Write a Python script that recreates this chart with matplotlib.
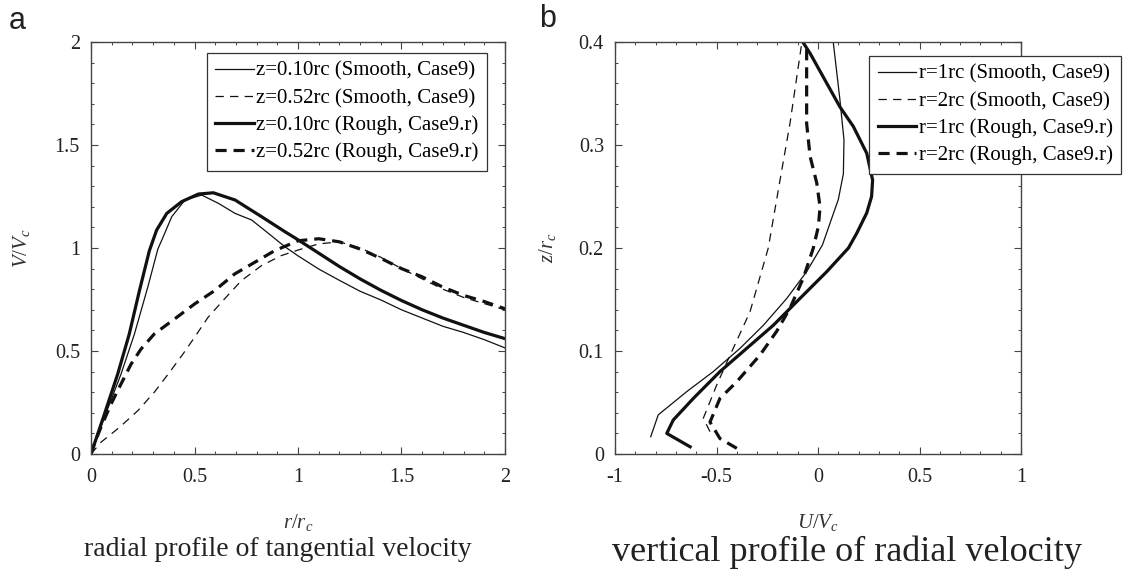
import matplotlib
matplotlib.use("Agg")
import matplotlib.pyplot as plt
from matplotlib.ticker import MultipleLocator, FuncFormatter

plt.rcParams['font.family'] = ['Liberation Serif', 'DejaVu Serif']
plt.rcParams['mathtext.fontset'] = 'custom'
plt.rcParams['mathtext.rm'] = 'Liberation Serif'
plt.rcParams['mathtext.it'] = 'Liberation Serif:italic'
plt.rcParams['lines.scale_dashes'] = False

# ---------------- Panel a data ----------------
r_smooth_010 = [0, 0.065, 0.145, 0.21, 0.274, 0.323, 0.347, 0.39, 0.454, 0.535, 0.615, 0.696, 0.776,
                0.857, 0.937, 1.0, 1.1, 1.2, 1.3, 1.4, 1.5, 1.6, 1.7, 1.8, 1.9, 2.0]
v_smooth_010 = [0, 0.178, 0.388, 0.583, 0.809, 0.995, 1.05, 1.152, 1.233, 1.257, 1.217, 1.168, 1.136,
                1.071, 1.006, 0.962, 0.898, 0.843, 0.79, 0.748, 0.70, 0.66, 0.62, 0.59, 0.555, 0.515]

r_smooth_052 = [0, 0.048, 0.137, 0.226, 0.306, 0.379, 0.444, 0.5, 0.565, 0.637, 0.726, 0.823, 0.919,
                1.0, 1.1, 1.2, 1.3, 1.4, 1.5, 1.6, 1.7, 1.8, 1.9, 2.0]
v_smooth_052 = [0, 0.057, 0.129, 0.21, 0.3, 0.396, 0.485, 0.566, 0.663, 0.744, 0.841, 0.914, 0.963,
                0.99, 1.02, 1.03, 1.0, 0.955, 0.9, 0.85, 0.80, 0.76, 0.73, 0.70]

r_rough_010 = [0, 0.065, 0.129, 0.185, 0.234, 0.282, 0.317, 0.366, 0.438, 0.519, 0.591, 0.696, 0.824,
               0.937, 1.0, 1.1, 1.2, 1.3, 1.4, 1.5, 1.6, 1.7, 1.8, 1.9, 2.0]
v_rough_010 = [0, 0.194, 0.388, 0.583, 0.793, 0.987, 1.087, 1.168, 1.225, 1.262, 1.268, 1.233, 1.152,
               1.079, 1.04, 0.975, 0.91, 0.85, 0.795, 0.745, 0.70, 0.66, 0.625, 0.59, 0.56]

r_rough_052 = [0, 0.016, 0.048, 0.097, 0.145, 0.194, 0.242, 0.306, 0.403, 0.5, 0.597, 0.694, 0.79,
               0.887, 1.0, 1.1, 1.2, 1.3, 1.4, 1.5, 1.6, 1.7, 1.8, 1.9, 2.0]
v_rough_052 = [0, 0.049, 0.13, 0.243, 0.34, 0.437, 0.51, 0.583, 0.655, 0.728, 0.793, 0.874, 0.93,
               0.987, 1.035, 1.045, 1.03, 0.995, 0.95, 0.9, 0.86, 0.81, 0.77, 0.74, 0.705]

labels_a = ['z=0.10rc (Smooth, Case9)', 'z=0.52rc (Smooth, Case9)',
            'z=0.10rc (Rough, Case9.r)', 'z=0.52rc (Rough, Case9.r)']

# ---------------- Panel b data ----------------
z_smooth_r1 = [0.0168, 0.038, 0.0605, 0.08, 0.1026, 0.125, 0.151, 0.177, 0.203, 0.224, 0.247,
               0.272, 0.305, 0.344, 0.4]
u_smooth_r1 = [-0.824, -0.787, -0.647, -0.516, -0.384, -0.269, -0.154, -0.056, 0.022, 0.059, 0.1,
               0.125, 0.128, 0.108, 0.075]

z_smooth_r2 = [0.0217, 0.0347, 0.067, 0.096, 0.138, 0.2, 0.266, 0.321, 0.399]
u_smooth_r2 = [-0.532, -0.565, -0.499, -0.433, -0.335, -0.245, -0.187, -0.138, -0.08]

z_rough_r1 = [0.007, 0.02, 0.033, 0.054, 0.08, 0.1026, 0.125, 0.151, 0.177, 0.2, 0.214, 0.234,
              0.25, 0.266, 0.292, 0.318, 0.337, 0.366, 0.389, 0.4]
u_rough_r1 = [-0.63, -0.745, -0.713, -0.614, -0.483, -0.351, -0.22, -0.089, 0.043, 0.15, 0.19, 0.24,
              0.264, 0.269, 0.24, 0.174, 0.108, 0.026, -0.039, -0.075]

z_rough_r2 = [0.0055, 0.015, 0.031, 0.054, 0.07, 0.096, 0.119, 0.1415, 0.171, 0.2, 0.221, 0.24,
              0.263, 0.289, 0.321, 0.395]
u_rough_r2 = [-0.4, -0.483, -0.532, -0.483, -0.401, -0.286, -0.204, -0.138, -0.072, -0.023, 0.002,
              0.01, -0.006, -0.039, -0.056, -0.056]

labels_b = ['r=1rc (Smooth, Case9)', 'r=2rc (Smooth, Case9)',
            'r=1rc (Rough, Case9.r)', 'r=2rc (Rough, Case9.r)']

LC = '#111111'
thin = 0.9
thick = 2.3
dash_thin = (0, (6, 4.5))
dash_thick = (0, (8, 5))

fig = plt.figure(figsize=(11.24, 5.79), dpi=100)
W, H = 1124, 579
axa = fig.add_axes([91 / W, 1 - 454 / H, (505 - 91) / W, (454 - 42) / H])
axb = fig.add_axes([615 / W, 1 - 454 / H, (1021 - 615) / W, (454 - 42) / H])

def fmt(v, pos):
    return '%g' % v

for ax in (axa, axb):
    ax.tick_params(which='both', direction='in', top=True, right=True, colors='#444444',
                   labelcolor='#222222', labelsize=14.5)
    ax.tick_params(which='major', length=5, width=0.8)
    ax.tick_params(which='minor', length=2.5, width=0.7)
    for sp in ax.spines.values():
        sp.set_color('#444444')
        sp.set_linewidth(1.0)
    ax.xaxis.set_major_formatter(FuncFormatter(fmt))
    ax.yaxis.set_major_formatter(FuncFormatter(fmt))

legend_kw = dict(bbox_transform=fig.transFigure, fontsize=15, frameon=True, fancybox=False,
                 edgecolor='#333333', framealpha=1, handlelength=1.85, handletextpad=0.12,
                 borderpad=0.4, labelspacing=0.36, borderaxespad=0)

# Panel a
axa.plot(r_smooth_010, v_smooth_010, color=LC, lw=thin, label=labels_a[0])
axa.plot(r_smooth_052, v_smooth_052, color=LC, lw=thin, ls=dash_thin, label=labels_a[1])
axa.plot(r_rough_010, v_rough_010, color=LC, lw=thick, label=labels_a[2])
axa.plot(r_rough_052, v_rough_052, color=LC, lw=thick, ls=dash_thick, label=labels_a[3])
axa.set_xlim(0, 2)
axa.set_ylim(0, 2)
axa.xaxis.set_major_locator(MultipleLocator(0.5))
axa.xaxis.set_minor_locator(MultipleLocator(0.1))
axa.yaxis.set_major_locator(MultipleLocator(0.5))
axa.yaxis.set_minor_locator(MultipleLocator(0.1))
axa.tick_params(axis='x', pad=10)
axa.tick_params(axis='y', pad=8)
axa.set_xlabel(r'$r/r_{c}$', fontsize=15, color='#333333', labelpad=18)
axa.set_ylabel(r'$V/V_{c}$', fontsize=15, color='#333333', labelpad=16)
la = axa.legend(loc='upper right', bbox_to_anchor=(487 / W, 1 - 53 / H), **legend_kw)
la.get_frame().set_linewidth(0.9)

# Panel b
axb.plot(u_smooth_r1, z_smooth_r1, color=LC, lw=thin, label=labels_b[0])
axb.plot(u_smooth_r2, z_smooth_r2, color=LC, lw=thin, ls=dash_thin, label=labels_b[1])
axb.plot(u_rough_r1, z_rough_r1, color=LC, lw=thick, label=labels_b[2])
axb.plot(u_rough_r2, z_rough_r2, color=LC, lw=thick, ls=dash_thick, label=labels_b[3])
axb.set_xlim(-1, 1)
axb.set_ylim(0, 0.4)
axb.xaxis.set_major_locator(MultipleLocator(0.5))
axb.xaxis.set_minor_locator(MultipleLocator(0.1))
axb.yaxis.set_major_locator(MultipleLocator(0.1))
axb.yaxis.set_minor_locator(MultipleLocator(0.02))
axb.tick_params(axis='x', pad=10)
axb.tick_params(axis='y', pad=8)
axb.set_xlabel(r'$U/V_{c}$', fontsize=15, color='#333333', labelpad=18)
axb.set_ylabel(r'$z/r_{c}$', fontsize=15, color='#333333', labelpad=15)
lb = axb.legend(loc='upper right', bbox_to_anchor=(1121 / W, 1 - 56 / H), **legend_kw)
lb.get_frame().set_linewidth(0.9)

# Panel letters and subtitles
fig.text(9 / W, 1 - 21 / H, 'a', family=['Liberation Sans', 'DejaVu Sans'], fontsize=22,
         va='center', ha='left', color='#222222')
fig.text(539 / W, 1 - 19 / H, 'b', family=['Liberation Sans', 'DejaVu Sans'], fontsize=22,
         va='center', ha='left', color='#222222')
fig.text(278 / W, 1 - 550 / H, 'radial profile of tangential velocity', fontsize=20,
         ha='center', va='center', color='#222222')
fig.text(847 / W, 1 - 552 / H, 'vertical profile of radial velocity', fontsize=26,
         ha='center', va='center', color='#222222')

fig.savefig('out.png', dpi=100)
